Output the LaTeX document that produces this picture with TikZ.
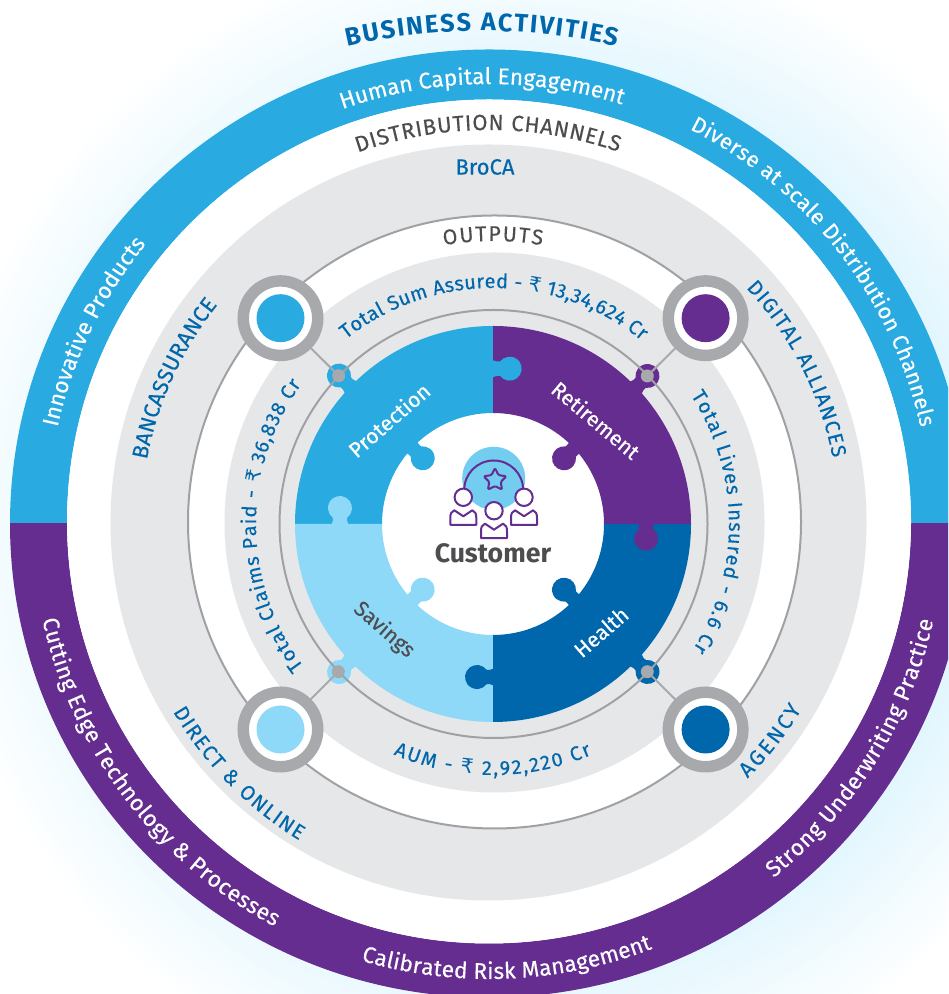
\documentclass[tikz,border=0pt]{standalone}
\usepackage{fontspec}
\setmainfont[FakeBold=0.25,BoldFeatures={FakeBold=0}]{Fira Sans}
\newfontfamily\rupfont{DejaVu Sans}
\usetikzlibrary{decorations.text}
\definecolor{cblue}{HTML}{29ABE2}
\definecolor{cpurple}{HTML}{652D90}
\definecolor{cdark}{HTML}{0067AC}
\definecolor{clight}{HTML}{8ED8F8}
\definecolor{cgray}{HTML}{E6E7E8}
\definecolor{cline}{HTML}{A0A1A4}
\definecolor{cring}{HTML}{A7A9AC}
\definecolor{ctext}{HTML}{4D4D4F}
\definecolor{cicon}{HTML}{72CDF1}
\definecolor{cglow}{HTML}{E2F6FE}
\newcommand\curv[8]{\def\tfmt{\normalfont\fontsize{#6}{#6}\selectfont\color{#7}}%
  \path[decorate,decoration={text along path,text={|\tfmt|#8},text align={fit to path}}]
    ([shift={(#1,#2)}]#4:#3) arc (#4:#5:#3);}
\newcommand\curb[8]{\def\tfmt{\normalfont\fontsize{#6}{#6}\selectfont\bfseries\color{#7}}%
  \path[decorate,decoration={text along path,text={|\tfmt|#8},text align={fit to path}}]
    ([shift={(#1,#2)}]#4:#3) arc (#4:#5:#3);}
\newcommand\ptab[4]{\fill[#1,shift={(#2,#3)},rotate=#4]
  (-17,-8.5) .. controls (-14,-7.5) and (-12,-6.5) .. (-9.6,-7.2) arc (-143:143:12)
  .. controls (-12,6.5) and (-14,7.5) .. (-17,8.5) -- cycle;}
\newcommand\person[2]{\begin{scope}[shift={(#1,#2)},iconline,fill=white]
  \filldraw (-13,-27.5) -- (-13,-21) .. controls (-13,-16) and (-12,-14.5) .. (-9,-13) -- (0,-19) -- (9,-13)
     .. controls (12,-14.5) and (13,-16) .. (13,-21) -- (13,-27.5) -- cycle;
  \filldraw (0,0) circle (8.7);
  \end{scope}}
\tikzset{
  thinring/.style={draw=cline,line width=1.5pt},
  hubring/.style={circle,draw=cring,fill=white,line width=8.6pt,minimum size=55.9pt,inner sep=0pt,outer sep=0pt},
  hubdot/.style={circle,fill=#1,minimum size=36pt,inner sep=0pt,outer sep=0pt},
  joint/.style={circle,fill=cring,minimum size=9.75pt,inner sep=0pt,outer sep=0pt},
  conn/.style={draw=cring,line width=1.5pt},
  iconline/.style={draw=cpurple,line width=1.5pt,line join=round},
  piece/.style={font=\fontsize{16}{16}\selectfont,inner sep=0pt},
}
\begin{document}
\begin{tikzpicture}[x=0.75pt,y=0.75pt]
\useasboundingbox (0,0) rectangle (948,994);
\clip (0,0) rectangle (948,994);
% glow
\foreach \i in {1,...,50} {
  \pgfmathsetmacro\rr{592-3*\i}
  \pgfmathsetmacro\pp{2*\i}
  \fill[cglow!\pp!white] (530,470) circle (\rr);
}
% outer ring
\begin{scope}
 \clip (0,470) rectangle (948,994);
 \fill[cblue,even odd rule] (489,470.5) ellipse (479 and 474) (489,472.5) circle (422);
\end{scope}
\begin{scope}
 \clip (0,0) rectangle (948,470);
 \fill[cpurple,even odd rule] (489,470.5) ellipse (479 and 474) (489,472.5) circle (422);
\end{scope}
\fill[white] (489,472.5) circle (422);
% bands
\fill[cgray] (488.5,471.5) circle (378);
\filldraw[fill=white,thinring] (494.5,472) circle (306.5);
\fill[cgray] (494.5,471.5) circle (270);
% puzzle
\begin{scope}[shift={(493,470)}]
 \fill[white] (0,0) circle (112);
 \fill[cblue] (90:111) -- (90:198) arc (90:180:198) -- (180:111) arc (180:90:111) -- cycle;
 \fill[clight] (180:111) -- (180:198) arc (180:270:198) -- (270:111) arc (270:180:111) -- cycle;
 \fill[cdark] (270:111) -- (270:198) arc (270:360:198) -- (0:111) arc (0:-90:111) -- cycle;
 \fill[cpurple] (0:111) -- (0:198) arc (0:90:198) -- (90:111) arc (90:0:111) -- cycle;
 \ptab{cblue}{16.7}{155.3}{0}
 \ptab{clight}{-153}{16}{90}
 \ptab{cdark}{-16}{-153}{180}
 \ptab{cpurple}{153}{-14.7}{270}
 \ptab{cblue}{-70.3}{65.7}{-45}
 \ptab{clight}{-70.3}{-65.7}{45}
 \ptab{cdark}{71}{-65.7}{135}
 \ptab{cpurple}{71}{65.7}{225}
 \ptab{cblue}{-154}{148.5}{135}
 \ptab{cpurple}{154.5}{148}{45}
 \ptab{cdark}{154.5}{-148}{-45}
 \ptab{clight}{-154}{-148}{225}
\end{scope}
\draw[thinring] (493.5,470) circle (214);
% hubs and joints
\node[hubring] (hubA) at (280.5,675.8) {};
\node[hubring] (hubB) at (705.6,675.8) {};
\node[hubring] (hubC) at (705.6,264.5) {};
\node[hubring] (hubD) at (280.5,264.5) {};
\node[hubdot=cblue] (dotA) at (hubA) {};
\node[hubdot=cpurple] (dotB) at (hubB) {};
\node[hubdot=cdark] (dotC) at (hubC) {};
\node[hubdot=clight] (dotD) at (hubD) {};
\node[joint] (jA) at (338.7,618.3) {};
\node[joint] (jB) at (647.3,618) {};
\node[joint] (jC) at (647.3,322.3) {};
\node[joint] (jD) at (338.3,322.3) {};
\draw[conn] (jA) -- (hubA);
\draw[conn] (jB) -- (hubB);
\draw[conn] (jC) -- (hubC);
\draw[conn] (jD) -- (hubD);
% icon
\fill[cicon] (493.7,515.7) circle (31.5);
\draw[iconline] (464.2,504) arc (180:0:29.5);
\draw[iconline,rounded corners=1pt,shift={(495,514)}] (90:12) -- (126:6) -- (162:12) -- (198:6) -- (234:12) -- (270:6) -- (306:12) -- (342:6) -- (18:12) -- (54:6) -- cycle;
\person{463.3}{496.7}
\person{524}{496.7}
\person{494}{483.3}
% centre texts
\node[font=\fontsize{20}{20}\selectfont\bfseries,text=ctext,inner sep=0pt] (customer) at (493,440.5) {Customer};
\node[piece,text=white,rotate=41] (protection) at (389,574) {Protection};
\node[piece,text=white,rotate=-40] (retirement) at (596,574) {Retirement};
\node[piece,text=white,rotate=41] (health) at (601,362) {Health};
\node[piece,text=ctext,rotate=-41] (savings) at (384,364) {Savings};
\node[font=\fontsize{16.5}{16.5}\selectfont,text=cdark,inner sep=0pt] (broca) at (485,827) {BroCA};
% curved texts
\curb{482}{363}{600}{103}{77}{19}{cdark}{BUSINESS ACTIVITIES}
\curv{489}{471}{439}{109.5}{72.5}{17}{white}{Human Capital Engagement}
\curv{489}{471}{442}{167.5}{141.5}{17}{white}{Innovative Products}
\curv{489}{471}{442}{63}{12.5}{16.5}{white}{Diverse at scale Distribution Channels}
\curv{489}{471}{457}{192.2}{242}{17}{white}{Cutting Edge Technology {\&} Processes}
\curv{489}{471}{456}{253.7}{291}{17}{white}{Calibrated Risk Management}
\curv{489}{471}{455}{308.7}{347.6}{17}{white}{Strong Underwriting Practice}
\curv{489}{471}{393}{109.5}{70.8}{16.5}{ctext}{DISTRIBUTION CHANNELS}
\curv{493}{470}{346}{43}{11}{15.5}{cdark}{DIGITAL ALLIANCES}
\curv{493}{470}{352}{169.5}{141.5}{16.5}{cdark}{BANCASSURANCE}
\curv{493}{470}{371}{210.4}{238.5}{15.5}{cdark}{DIRECT {\&} ONLINE}
\curv{493}{470}{360}{315}{329}{16}{cdark}{AGENCY}
\curv{493}{470}{283}{100}{80}{16}{ctext}{OUTPUTS}
\curv{493}{470}{236}{128.5}{51}{15}{cdark}{Total Sum Assured - |\tfmt\rupfont|₹|\tfmt| 13,34,624 Cr}
\curv{493}{470}{236}{33}{-32}{15}{cdark}{Total Lives Insured - 6.6 Cr}
\curv{493}{470}{251}{246.6}{293.2}{15}{cdark}{AUM - |\tfmt\rupfont|₹|\tfmt| 2,92,220 Cr}
\curv{493}{470}{237}{217}{144}{15}{cdark}{Total Claims Paid - |\tfmt\rupfont|₹|\tfmt| 36,838 Cr}
\end{tikzpicture}
\end{document}
